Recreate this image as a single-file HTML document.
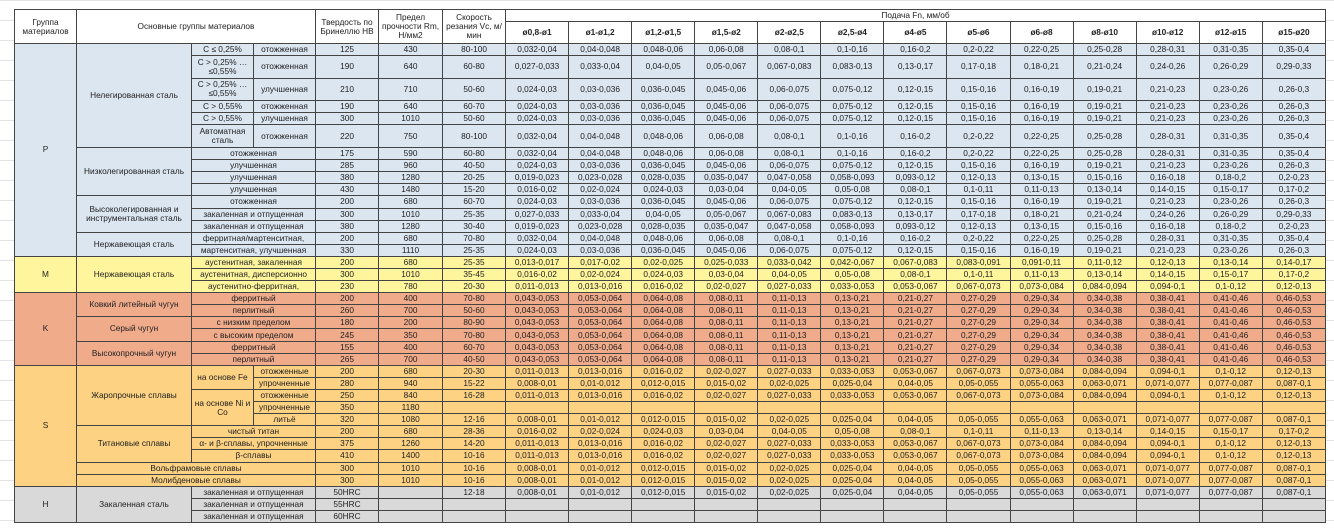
<!DOCTYPE html>
<html><head><meta charset="utf-8"><style>
html,body{margin:0;padding:0;width:1334px;height:529px;overflow:hidden;background:#fff;
background-image:linear-gradient(#e3e3e3 1px,transparent 1px);background-size:100% 20px;}
#t{position:absolute;left:14px;top:9px;border-collapse:collapse;table-layout:fixed;width:1312px;
font-family:"Liberation Sans",sans-serif;font-size:8.3px;color:#222;}
#t td{border:1px solid #444;text-align:center;vertical-align:middle;padding:0;line-height:9px;overflow:hidden;white-space:nowrap;}
#t td.w{white-space:normal;}
tr.n{height:12.1px}tr.t{height:22.6px}
.p td{background:#dce6f1}.m td{background:#fff59c}.k td{background:#f0ab8b}.s td{background:#fdd283}.h td{background:#d9d9d9}
.hd td{background:#fff}
.hb td{font-weight:bold}
</style></head><body>
<table id="t">
<colgroup><col style="width:62px"><col style="width:115px"><col style="width:62px"><col style="width:62px"><col style="width:63px"><col style="width:64px"><col style="width:63px">
<col><col><col><col><col><col><col><col><col><col><col><col><col></colgroup>
<tr class="hd" style="height:12px"><td rowspan="2" class="w">Группа материалов</td><td colspan="3" rowspan="2">Основные группы материалов</td><td rowspan="2" class="w">Твердость по Бринеллю НВ</td><td rowspan="2" class="w">Предел прочности Rm, Н/мм2</td><td rowspan="2" class="w">Скорость резания Vc, м/мин</td><td colspan="13">Подача Fn, мм/об</td></tr>
<tr class="hd hb" style="height:22px"><td>ø0,8-ø1</td><td>ø1-ø1,2</td><td>ø1,2-ø1,5</td><td>ø1,5-ø2</td><td>ø2-ø2,5</td><td>ø2,5-ø4</td><td>ø4-ø5</td><td>ø5-ø6</td><td>ø6-ø8</td><td>ø8-ø10</td><td>ø10-ø12</td><td>ø12-ø15</td><td>ø15-ø20</td></tr>

<tr class="p n"><td rowspan="15">P</td><td rowspan="6">Нелегированная сталь</td><td>C ≤ 0,25%</td><td>отожженная</td><td>125</td><td>430</td><td>80-100</td><td>0,032-0,04</td><td>0,04-0,048</td><td>0,048-0,06</td><td>0,06-0,08</td><td>0,08-0,1</td><td>0,1-0,16</td><td>0,16-0,2</td><td>0,2-0,22</td><td>0,22-0,25</td><td>0,25-0,28</td><td>0,28-0,31</td><td>0,31-0,35</td><td>0,35-0,4</td></tr>
<tr class="p t"><td class="w">C &gt; 0,25% … ≤0,55%</td><td>отожженная</td><td>190</td><td>640</td><td>60-80</td><td>0,027-0,033</td><td>0,033-0,04</td><td>0,04-0,05</td><td>0,05-0,067</td><td>0,067-0,083</td><td>0,083-0,13</td><td>0,13-0,17</td><td>0,17-0,18</td><td>0,18-0,21</td><td>0,21-0,24</td><td>0,24-0,26</td><td>0,26-0,29</td><td>0,29-0,33</td></tr>
<tr class="p t"><td class="w">C &gt; 0,25% … ≤0,55%</td><td>улучшенная</td><td>210</td><td>710</td><td>50-60</td><td>0,024-0,03</td><td>0,03-0,036</td><td>0,036-0,045</td><td>0,045-0,06</td><td>0,06-0,075</td><td>0,075-0,12</td><td>0,12-0,15</td><td>0,15-0,16</td><td>0,16-0,19</td><td>0,19-0,21</td><td>0,21-0,23</td><td>0,23-0,26</td><td>0,26-0,3</td></tr>
<tr class="p n"><td>C &gt; 0,55%</td><td>отожженная</td><td>190</td><td>640</td><td>60-70</td><td>0,024-0,03</td><td>0,03-0,036</td><td>0,036-0,045</td><td>0,045-0,06</td><td>0,06-0,075</td><td>0,075-0,12</td><td>0,12-0,15</td><td>0,15-0,16</td><td>0,16-0,19</td><td>0,19-0,21</td><td>0,21-0,23</td><td>0,23-0,26</td><td>0,26-0,3</td></tr>
<tr class="p n"><td>C &gt; 0,55%</td><td>улучшенная</td><td>300</td><td>1010</td><td>50-60</td><td>0,024-0,03</td><td>0,03-0,036</td><td>0,036-0,045</td><td>0,045-0,06</td><td>0,06-0,075</td><td>0,075-0,12</td><td>0,12-0,15</td><td>0,15-0,16</td><td>0,16-0,19</td><td>0,19-0,21</td><td>0,21-0,23</td><td>0,23-0,26</td><td>0,26-0,3</td></tr>
<tr class="p t"><td class="w">Автоматная сталь</td><td>отожженная</td><td>220</td><td>750</td><td>80-100</td><td>0,032-0,04</td><td>0,04-0,048</td><td>0,048-0,06</td><td>0,06-0,08</td><td>0,08-0,1</td><td>0,1-0,16</td><td>0,16-0,2</td><td>0,2-0,22</td><td>0,22-0,25</td><td>0,25-0,28</td><td>0,28-0,31</td><td>0,31-0,35</td><td>0,35-0,4</td></tr>
<tr class="p n"><td rowspan="4">Низколегированная сталь</td><td colspan="2">отожженная</td><td>175</td><td>590</td><td>60-80</td><td>0,032-0,04</td><td>0,04-0,048</td><td>0,048-0,06</td><td>0,06-0,08</td><td>0,08-0,1</td><td>0,1-0,16</td><td>0,16-0,2</td><td>0,2-0,22</td><td>0,22-0,25</td><td>0,25-0,28</td><td>0,28-0,31</td><td>0,31-0,35</td><td>0,35-0,4</td></tr>
<tr class="p n"><td colspan="2">улучшенная</td><td>285</td><td>960</td><td>40-50</td><td>0,024-0,03</td><td>0,03-0,036</td><td>0,036-0,045</td><td>0,045-0,06</td><td>0,06-0,075</td><td>0,075-0,12</td><td>0,12-0,15</td><td>0,15-0,16</td><td>0,16-0,19</td><td>0,19-0,21</td><td>0,21-0,23</td><td>0,23-0,26</td><td>0,26-0,3</td></tr>
<tr class="p n"><td colspan="2">улучшенная</td><td>380</td><td>1280</td><td>20-25</td><td>0,019-0,023</td><td>0,023-0,028</td><td>0,028-0,035</td><td>0,035-0,047</td><td>0,047-0,058</td><td>0,058-0,093</td><td>0,093-0,12</td><td>0,12-0,13</td><td>0,13-0,15</td><td>0,15-0,16</td><td>0,16-0,18</td><td>0,18-0,2</td><td>0,2-0,23</td></tr>
<tr class="p n"><td colspan="2">улучшенная</td><td>430</td><td>1480</td><td>15-20</td><td>0,016-0,02</td><td>0,02-0,024</td><td>0,024-0,03</td><td>0,03-0,04</td><td>0,04-0,05</td><td>0,05-0,08</td><td>0,08-0,1</td><td>0,1-0,11</td><td>0,11-0,13</td><td>0,13-0,14</td><td>0,14-0,15</td><td>0,15-0,17</td><td>0,17-0,2</td></tr>
<tr class="p n"><td rowspan="3" class="w">Высоколегированная и инструментальная сталь</td><td colspan="2">отожженная</td><td>200</td><td>680</td><td>60-70</td><td>0,024-0,03</td><td>0,03-0,036</td><td>0,036-0,045</td><td>0,045-0,06</td><td>0,06-0,075</td><td>0,075-0,12</td><td>0,12-0,15</td><td>0,15-0,16</td><td>0,16-0,19</td><td>0,19-0,21</td><td>0,21-0,23</td><td>0,23-0,26</td><td>0,26-0,3</td></tr>
<tr class="p n"><td colspan="2">закаленная и отпущенная</td><td>300</td><td>1010</td><td>25-35</td><td>0,027-0,033</td><td>0,033-0,04</td><td>0,04-0,05</td><td>0,05-0,067</td><td>0,067-0,083</td><td>0,083-0,13</td><td>0,13-0,17</td><td>0,17-0,18</td><td>0,18-0,21</td><td>0,21-0,24</td><td>0,24-0,26</td><td>0,26-0,29</td><td>0,29-0,33</td></tr>
<tr class="p n"><td colspan="2">закаленная и отпущенная</td><td>380</td><td>1280</td><td>30-40</td><td>0,019-0,023</td><td>0,023-0,028</td><td>0,028-0,035</td><td>0,035-0,047</td><td>0,047-0,058</td><td>0,058-0,093</td><td>0,093-0,12</td><td>0,12-0,13</td><td>0,13-0,15</td><td>0,15-0,16</td><td>0,16-0,18</td><td>0,18-0,2</td><td>0,2-0,23</td></tr>
<tr class="p n"><td rowspan="2">Нержавеющая сталь</td><td colspan="2">ферритная/мартенситная,</td><td>200</td><td>680</td><td>70-80</td><td>0,032-0,04</td><td>0,04-0,048</td><td>0,048-0,06</td><td>0,06-0,08</td><td>0,08-0,1</td><td>0,1-0,16</td><td>0,16-0,2</td><td>0,2-0,22</td><td>0,22-0,25</td><td>0,25-0,28</td><td>0,28-0,31</td><td>0,31-0,35</td><td>0,35-0,4</td></tr>
<tr class="p n"><td colspan="2">мартенситная, улучшенная</td><td>330</td><td>1110</td><td>25-35</td><td>0,024-0,03</td><td>0,03-0,036</td><td>0,036-0,045</td><td>0,045-0,06</td><td>0,06-0,075</td><td>0,075-0,12</td><td>0,12-0,15</td><td>0,15-0,16</td><td>0,16-0,19</td><td>0,19-0,21</td><td>0,21-0,23</td><td>0,23-0,26</td><td>0,26-0,3</td></tr>

<tr class="m n"><td rowspan="3">M</td><td rowspan="3">Нержавеющая сталь</td><td colspan="2">аустенитная, закаленная</td><td>200</td><td>680</td><td>25-35</td><td>0,013-0,017</td><td>0,017-0,02</td><td>0,02-0,025</td><td>0,025-0,033</td><td>0,033-0,042</td><td>0,042-0,067</td><td>0,067-0,083</td><td>0,083-0,091</td><td>0,091-0,11</td><td>0,11-0,12</td><td>0,12-0,13</td><td>0,13-0,14</td><td>0,14-0,17</td></tr>
<tr class="m n"><td colspan="2">аустенитная, дисперсионно</td><td>300</td><td>1010</td><td>35-45</td><td>0,016-0,02</td><td>0,02-0,024</td><td>0,024-0,03</td><td>0,03-0,04</td><td>0,04-0,05</td><td>0,05-0,08</td><td>0,08-0,1</td><td>0,1-0,11</td><td>0,11-0,13</td><td>0,13-0,14</td><td>0,14-0,15</td><td>0,15-0,17</td><td>0,17-0,2</td></tr>
<tr class="m n"><td colspan="2">аустенитно-ферритная,</td><td>230</td><td>780</td><td>20-30</td><td>0,011-0,013</td><td>0,013-0,016</td><td>0,016-0,02</td><td>0,02-0,027</td><td>0,027-0,033</td><td>0,033-0,053</td><td>0,053-0,067</td><td>0,067-0,073</td><td>0,073-0,084</td><td>0,084-0,094</td><td>0,094-0,1</td><td>0,1-0,12</td><td>0,12-0,13</td></tr>

<tr class="k n"><td rowspan="6">K</td><td rowspan="2">Ковкий литейный чугун</td><td colspan="2">ферритный</td><td>200</td><td>400</td><td>70-80</td><td>0,043-0,053</td><td>0,053-0,064</td><td>0,064-0,08</td><td>0,08-0,11</td><td>0,11-0,13</td><td>0,13-0,21</td><td>0,21-0,27</td><td>0,27-0,29</td><td>0,29-0,34</td><td>0,34-0,38</td><td>0,38-0,41</td><td>0,41-0,46</td><td>0,46-0,53</td></tr>
<tr class="k n"><td colspan="2">перлитный</td><td>260</td><td>700</td><td>50-60</td><td>0,043-0,053</td><td>0,053-0,064</td><td>0,064-0,08</td><td>0,08-0,11</td><td>0,11-0,13</td><td>0,13-0,21</td><td>0,21-0,27</td><td>0,27-0,29</td><td>0,29-0,34</td><td>0,34-0,38</td><td>0,38-0,41</td><td>0,41-0,46</td><td>0,46-0,53</td></tr>
<tr class="k n"><td rowspan="2">Серый чугун</td><td colspan="2">с низким пределом</td><td>180</td><td>200</td><td>80-90</td><td>0,043-0,053</td><td>0,053-0,064</td><td>0,064-0,08</td><td>0,08-0,11</td><td>0,11-0,13</td><td>0,13-0,21</td><td>0,21-0,27</td><td>0,27-0,29</td><td>0,29-0,34</td><td>0,34-0,38</td><td>0,38-0,41</td><td>0,41-0,46</td><td>0,46-0,53</td></tr>
<tr class="k n"><td colspan="2">с высоким пределом</td><td>245</td><td>350</td><td>70-80</td><td>0,043-0,053</td><td>0,053-0,064</td><td>0,064-0,08</td><td>0,08-0,11</td><td>0,11-0,13</td><td>0,13-0,21</td><td>0,21-0,27</td><td>0,27-0,29</td><td>0,29-0,34</td><td>0,34-0,38</td><td>0,38-0,41</td><td>0,41-0,46</td><td>0,46-0,53</td></tr>
<tr class="k n"><td rowspan="2">Высокопрочный чугун</td><td colspan="2">ферритный</td><td>155</td><td>400</td><td>60-70</td><td>0,043-0,053</td><td>0,053-0,064</td><td>0,064-0,08</td><td>0,08-0,11</td><td>0,11-0,13</td><td>0,13-0,21</td><td>0,21-0,27</td><td>0,27-0,29</td><td>0,29-0,34</td><td>0,34-0,38</td><td>0,38-0,41</td><td>0,41-0,46</td><td>0,46-0,53</td></tr>
<tr class="k n"><td colspan="2">перлитный</td><td>265</td><td>700</td><td>40-50</td><td>0,043-0,053</td><td>0,053-0,064</td><td>0,064-0,08</td><td>0,08-0,11</td><td>0,11-0,13</td><td>0,13-0,21</td><td>0,21-0,27</td><td>0,27-0,29</td><td>0,29-0,34</td><td>0,34-0,38</td><td>0,38-0,41</td><td>0,41-0,46</td><td>0,46-0,53</td></tr>

<tr class="s n"><td rowspan="10">S</td><td rowspan="5">Жаропрочные сплавы</td><td rowspan="2">на основе Fe</td><td>отожженные</td><td>200</td><td>680</td><td>20-30</td><td>0,011-0,013</td><td>0,013-0,016</td><td>0,016-0,02</td><td>0,02-0,027</td><td>0,027-0,033</td><td>0,033-0,053</td><td>0,053-0,067</td><td>0,067-0,073</td><td>0,073-0,084</td><td>0,084-0,094</td><td>0,094-0,1</td><td>0,1-0,12</td><td>0,12-0,13</td></tr>
<tr class="s n"><td>упрочненные</td><td>280</td><td>940</td><td>15-22</td><td>0,008-0,01</td><td>0,01-0,012</td><td>0,012-0,015</td><td>0,015-0,02</td><td>0,02-0,025</td><td>0,025-0,04</td><td>0,04-0,05</td><td>0,05-0,055</td><td>0,055-0,063</td><td>0,063-0,071</td><td>0,071-0,077</td><td>0,077-0,087</td><td>0,087-0,1</td></tr>
<tr class="s n"><td rowspan="3" class="w">на основе Ni и Co</td><td>отожженные</td><td>250</td><td>840</td><td>16-28</td><td>0,011-0,013</td><td>0,013-0,016</td><td>0,016-0,02</td><td>0,02-0,027</td><td>0,027-0,033</td><td>0,033-0,053</td><td>0,053-0,067</td><td>0,067-0,073</td><td>0,073-0,084</td><td>0,084-0,094</td><td>0,094-0,1</td><td>0,1-0,12</td><td>0,12-0,13</td></tr>
<tr class="s n"><td>упрочненные</td><td>350</td><td>1180</td><td></td><td></td><td></td><td></td><td></td><td></td><td></td><td></td><td></td><td></td><td></td><td></td><td></td><td></td></tr>
<tr class="s n"><td>литьё</td><td>320</td><td>1080</td><td>12-16</td><td>0,008-0,01</td><td>0,01-0,012</td><td>0,012-0,015</td><td>0,015-0,02</td><td>0,02-0,025</td><td>0,025-0,04</td><td>0,04-0,05</td><td>0,05-0,055</td><td>0,055-0,063</td><td>0,063-0,071</td><td>0,071-0,077</td><td>0,077-0,087</td><td>0,087-0,1</td></tr>
<tr class="s n"><td rowspan="3">Титановые сплавы</td><td colspan="2">чистый титан</td><td>200</td><td>680</td><td>28-36</td><td>0,016-0,02</td><td>0,02-0,024</td><td>0,024-0,03</td><td>0,03-0,04</td><td>0,04-0,05</td><td>0,05-0,08</td><td>0,08-0,1</td><td>0,1-0,11</td><td>0,11-0,13</td><td>0,13-0,14</td><td>0,14-0,15</td><td>0,15-0,17</td><td>0,17-0,2</td></tr>
<tr class="s n"><td colspan="2">α- и β-сплавы, упрочненные</td><td>375</td><td>1260</td><td>14-20</td><td>0,011-0,013</td><td>0,013-0,016</td><td>0,016-0,02</td><td>0,02-0,027</td><td>0,027-0,033</td><td>0,033-0,053</td><td>0,053-0,067</td><td>0,067-0,073</td><td>0,073-0,084</td><td>0,084-0,094</td><td>0,094-0,1</td><td>0,1-0,12</td><td>0,12-0,13</td></tr>
<tr class="s n"><td colspan="2">β-сплавы</td><td>410</td><td>1400</td><td>10-16</td><td>0,011-0,013</td><td>0,013-0,016</td><td>0,016-0,02</td><td>0,02-0,027</td><td>0,027-0,033</td><td>0,033-0,053</td><td>0,053-0,067</td><td>0,067-0,073</td><td>0,073-0,084</td><td>0,084-0,094</td><td>0,094-0,1</td><td>0,1-0,12</td><td>0,12-0,13</td></tr>
<tr class="s n"><td colspan="3">Вольфрамовые сплавы</td><td>300</td><td>1010</td><td>10-16</td><td>0,008-0,01</td><td>0,01-0,012</td><td>0,012-0,015</td><td>0,015-0,02</td><td>0,02-0,025</td><td>0,025-0,04</td><td>0,04-0,05</td><td>0,05-0,055</td><td>0,055-0,063</td><td>0,063-0,071</td><td>0,071-0,077</td><td>0,077-0,087</td><td>0,087-0,1</td></tr>
<tr class="s n"><td colspan="3">Молибденовые сплавы</td><td>300</td><td>1010</td><td>10-16</td><td>0,008-0,01</td><td>0,01-0,012</td><td>0,012-0,015</td><td>0,015-0,02</td><td>0,02-0,025</td><td>0,025-0,04</td><td>0,04-0,05</td><td>0,05-0,055</td><td>0,055-0,063</td><td>0,063-0,071</td><td>0,071-0,077</td><td>0,077-0,087</td><td>0,087-0,1</td></tr>

<tr class="h n"><td rowspan="3">H</td><td rowspan="3">Закаленная сталь</td><td colspan="2">закаленная и отпущенная</td><td>50HRC</td><td></td><td>12-18</td><td>0,008-0,01</td><td>0,01-0,012</td><td>0,012-0,015</td><td>0,015-0,02</td><td>0,02-0,025</td><td>0,025-0,04</td><td>0,04-0,05</td><td>0,05-0,055</td><td>0,055-0,063</td><td>0,063-0,071</td><td>0,071-0,077</td><td>0,077-0,087</td><td>0,087-0,1</td></tr>
<tr class="h n"><td colspan="2">закаленная и отпущенная</td><td>55HRC</td><td></td><td></td><td></td><td></td><td></td><td></td><td></td><td></td><td></td><td></td><td></td><td></td><td></td><td></td><td></td></tr>
<tr class="h n"><td colspan="2">закаленная и отпущенная</td><td>60HRC</td><td></td><td></td><td></td><td></td><td></td><td></td><td></td><td></td><td></td><td></td><td></td><td></td><td></td><td></td><td></td></tr>
</table>
</body></html>
